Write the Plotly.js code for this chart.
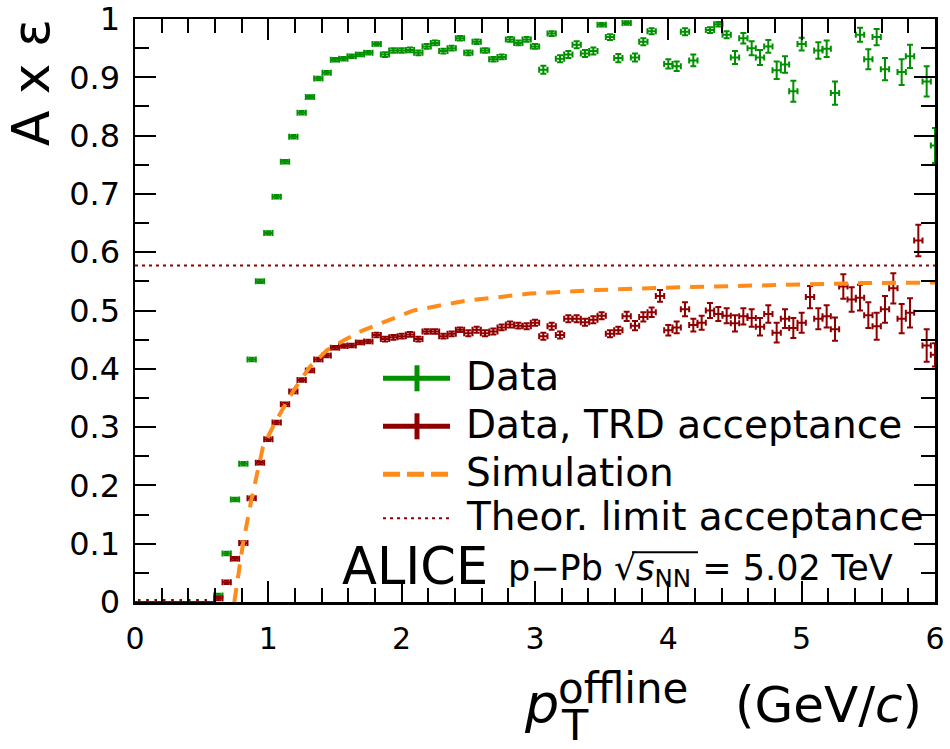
<!DOCTYPE html>
<html>
<head>
<meta charset="utf-8">
<script src="https://cdn.plot.ly/plotly-3.0.1.min.js"></script>
<style>
    html, body { margin: 0; padding: 0; background: #fff; }
    #chart { width: 950px; height: 749px; }
</style>
</head>
<body>
<div id="chart"></div>
<script>
"use strict";

// pT bin centres (GeV/c)
const ptBins = [0, 0.0625, 0.125, 0.1875, 0.25, 0.3125, 0.375, 0.4375, 0.5, 0.5625,
    0.625, 0.6875, 0.75, 0.8125, 0.875, 0.9375, 1, 1.0625, 1.125, 1.1875,
    1.25, 1.3125, 1.375, 1.4375, 1.5, 1.5625, 1.625, 1.6875, 1.75, 1.8125,
    1.875, 1.9375, 2, 2.0625, 2.125, 2.1875, 2.25, 2.3125, 2.375, 2.4375,
    2.5, 2.5625, 2.625, 2.6875, 2.75, 2.8125, 2.875, 2.9375, 3, 3.0625,
    3.125, 3.1875, 3.25, 3.3125, 3.375, 3.4375, 3.5, 3.5625, 3.625, 3.6875,
    3.75, 3.8125, 3.875, 3.9375, 4, 4.0625, 4.125, 4.1875, 4.25, 4.3125,
    4.375, 4.4375, 4.5, 4.5625, 4.625, 4.6875, 4.75, 4.8125, 4.875, 4.9375,
    5, 5.0625, 5.125, 5.1875, 5.25, 5.3125, 5.375, 5.4375, 5.5, 5.5625,
    5.625, 5.6875, 5.75, 5.8125, 5.875, 5.9375, 6];
const binHalfWidth = 0.03125;

// A x eff, all data
const effData = [0, 0, 0, 0, 0, 0, 0, 0, 0, 0,
    0.011, 0.083, 0.176, 0.237, 0.416, 0.550, 0.633, 0.695, 0.755, 0.798,
    0.839, 0.866, 0.898, 0.908, 0.930, 0.932, 0.936, 0.939, 0.942, 0.957,
    0.939, 0.946, 0.946, 0.947, 0.942, 0.953, 0.959, 0.945, 0.950, 0.967,
    0.942, 0.961, 0.946, 0.931, 0.935, 0.965, 0.959, 0.965, 0.953, 0.913,
    0.975, 0.932, 0.939, 0.956, 0.941, 0.945, 0.990, 0.969, 0.933, 0.993,
    0.934, 0.961, 0.979, null, 0.923, 0.919, 0.978, 0.929, null, 0.981,
    0.991, 0.973, 0.934, 0.967, 0.950, 0.934, 0.953, 0.912, 0.922, 0.876,
    0.957, null, 0.946, 0.949, 0.873, null, null, 0.973, 0.931, 0.969,
    0.914, null, 0.909, 0.936, null, 0.893, 0.783];
const errData = [0, 0, 0, 0, 0, 0, 0, 0, 0, 0,
    0.003, 0.003, 0.003, 0.003, 0.003, 0.003, 0.003, 0.003, 0.003, 0.003,
    0.003, 0.003, 0.003, 0.003, 0.003, 0.003, 0.003, 0.003, 0.003, 0.003,
    0.004, 0.004, 0.004, 0.004, 0.004, 0.004, 0.004, 0.004, 0.004, 0.004,
    0.004, 0.004, 0.004, 0.004, 0.004, 0.004, 0.004, 0.004, 0.004, 0.007,
    0.004, 0.006, 0.006, 0.006, 0.006, 0.006, 0.003, 0.005, 0.007, 0.003,
    0.007, 0.006, 0.005, 0, 0.008, 0.008, 0.006, 0.010, 0, 0.005,
    0.004, 0.006, 0.011, 0.009, 0.012, 0.013, 0.011, 0.015, 0.014, 0.018,
    0.011, 0, 0.014, 0.014, 0.020, 0, 0, 0.012, 0.017, 0.014,
    0.019, 0, 0.022, 0.020, 0, 0.026, 0.030];

// A x eff, tracks in TRD acceptance
const effTRD = [0, 0, 0, 0, 0, 0, 0, 0, 0, 0,
    0.006, 0.034, 0.074, 0.101, 0.178, 0.239, 0.279, 0.308, 0.339, 0.361,
    0.381, 0.397, 0.416, 0.423, 0.436, 0.439, 0.440, 0.445, 0.447, 0.458,
    0.451, 0.454, 0.456, 0.459, 0.451, 0.464, 0.464, 0.456, 0.460, 0.467,
    0.461, 0.467, 0.461, 0.464, 0.471, 0.476, 0.474, 0.473, 0.479, 0.456,
    0.473, 0.458, 0.486, 0.486, 0.480, 0.484, 0.491, 0.460, 0.466, 0.490,
    0.474, 0.489, 0.497, 0.525, 0.466, 0.471, 0.502, 0.475, 0.479, 0.500,
    0.494, 0.491, 0.478, 0.490, 0.487, 0.472, 0.494, 0.462, 0.486, 0.470,
    0.479, 0.523, 0.486, 0.490, 0.468, 0.541, 0.519, 0.522, 0.492, 0.473,
    0.502, 0.538, 0.486, 0.496, 0.620, 0.440, 0.424];
const errTRD = [0, 0, 0, 0, 0, 0, 0, 0, 0, 0,
    0.003, 0.003, 0.003, 0.003, 0.003, 0.003, 0.003, 0.003, 0.003, 0.003,
    0.003, 0.003, 0.003, 0.003, 0.003, 0.003, 0.003, 0.003, 0.003, 0.004,
    0.004, 0.004, 0.004, 0.004, 0.004, 0.004, 0.004, 0.004, 0.004, 0.004,
    0.005, 0.005, 0.005, 0.005, 0.005, 0.005, 0.005, 0.005, 0.005, 0.006,
    0.006, 0.006, 0.006, 0.006, 0.006, 0.006, 0.006, 0.006, 0.006, 0.008,
    0.008, 0.008, 0.008, 0.010, 0.009, 0.010, 0.012, 0.011, 0.012, 0.013,
    0.012, 0.013, 0.014, 0.014, 0.015, 0.015, 0.015, 0.017, 0.016, 0.017,
    0.017, 0.019, 0.018, 0.019, 0.020, 0.021, 0.021, 0.022, 0.022, 0.023,
    0.023, 0.026, 0.025, 0.025, 0.027, 0.028, 0.020];

// simulation curve
const simPt = [0.745, 0.77, 0.81, 0.875, 0.96, 1.06, 1.19, 1.31, 1.44, 1.56,
    1.71, 1.9, 2.09, 2.46, 2.96, 3.46, 3.94, 4.69, 5.44, 6.0];
const simEff = [0, 0.035, 0.1, 0.178, 0.266, 0.312, 0.363, 0.403, 0.432, 0.448,
    0.466, 0.483, 0.5, 0.516, 0.529, 0.535, 0.539, 0.543, 0.547, 0.548];

// theoretical acceptance limit
const limitPt = [0, 6];
const limitEff = [0.577, 0.577];

const legendNames = ["Data", "Data, TRD acceptance", "Simulation", "Theor. limit acceptance"];

const GREEN = "#009000";
const RED = "#900000";
const ORANGE = "#ff8c1a";
const FONT = "DejaVu Sans, Liberation Sans, sans-serif";

// pixel -> paper coordinates (plot frame is 135..935 x 18.7..601.7)
function px(x) { return (x - 135) / 800; }
function py(y) { return (601.7 - y) / 583; }

function dataTrace(y, err, color) {
    return {
        x: ptBins,
        y: y,
        type: "scatter",
        mode: "markers",
        marker: {color: color, size: 2},
        error_x: {type: "constant", value: binHalfWidth, color: color, thickness: 2, width: 3},
        error_y: {type: "data", array: err, color: color, thickness: 2, width: 3},
        showlegend: false,
        hoverinfo: "none"
    };
}

const traces = [
    {
        x: limitPt, y: limitEff, type: "scatter", mode: "lines",
        line: {color: RED, width: 2, dash: "3px,4px"}, showlegend: false, hoverinfo: "none"
    },
    dataTrace(effData, errData, GREEN),
    dataTrace(effTRD, errTRD, RED),
    {
        x: simPt, y: simEff, type: "scatter", mode: "lines", line: {color: ORANGE, width: 4, dash: "14px,10px"},
        showlegend: false, hoverinfo: "none"
    }
];

// hand-drawn legend, ROOT style
const legendRows = [378, 426, 474, 518];
const shapes = [];
function seg(x0, y0, x1, y1, color, width, dash) {
    shapes.push({
        type: "line", xref: "paper", yref: "paper",
        x0: px(x0), y0: py(y0), x1: px(x1), y1: py(y1),
        line: {color: color, width: width, dash: dash || "solid"}
    });
}
seg(383, legendRows[0], 450, legendRows[0], GREEN, 5);
seg(417, legendRows[0] - 13, 417, legendRows[0] + 13, GREEN, 5);
seg(383, legendRows[1], 450, legendRows[1], RED, 5);
seg(417, legendRows[1] - 13, 417, legendRows[1] + 13, RED, 5);
seg(383, legendRows[2], 450, legendRows[2], ORANGE, 5, "17px,7px");
seg(383, legendRows[3], 450, legendRows[3], RED, 2, "3px,4px");
// overline of the square root
seg(632, 552, 698, 552, "black", 2);

const annotations = legendNames.map(function (name, i) {
    return {
        text: name, xref: "paper", yref: "paper", x: px(464), y: py(legendRows[i] - 2),
        xanchor: "left", yanchor: "middle", showarrow: false,
        font: {family: FONT, size: 39, color: "black"}
    };
});

function label(text, x, y, size, extra) {
    let a = {
        text: text, xref: "paper", yref: "paper", x: px(x), y: py(y),
        xanchor: "left", yanchor: "middle", showarrow: false,
        font: {family: FONT, size: size, color: "black"}
    };
    return Object.assign(a, extra || {});
}

annotations.push(label("ALICE", 340, 566, 51));
annotations.push(label("p\u2212Pb \u221A<i>s</i><sub>NN</sub> = 5.02 TeV", 506, 570, 35));
// axis titles
annotations.push(label("<i>p</i>", 522, 703, 54));
annotations.push(label("offline", 556, 688, 42));
annotations.push(label("T", 559, 725, 43));
annotations.push(label("(GeV/<i>c</i>)", 733, 705, 50));
annotations.push(label("A x \u03B5", 31, 82, 52, {textangle: -90, xanchor: "center"}));

const axisCommon = {
    showline: true, linecolor: "black", linewidth: 2.5, mirror: "allticks",
    ticks: "inside", ticklen: 21, tickwidth: 2, tickcolor: "black",
    showgrid: false, zeroline: false, fixedrange: true
};

const layout = {
    width: 950,
    height: 749,
    margin: {l: 135, r: 15, t: 19, b: 147},
    paper_bgcolor: "white",
    plot_bgcolor: "white",
    showlegend: false,
    xaxis: Object.assign({}, axisCommon, {
        range: [0, 6], dtick: 1, tick0: 0,
        minor: {dtick: 0.2, ticklen: 14, tickwidth: 2, tickcolor: "black", ticks: "inside"},
        tickfont: {family: FONT, size: 30, color: "black"}, ticklabelstandoff: 8
    }),
    yaxis: Object.assign({}, axisCommon, {
        range: [0, 1], dtick: 0.1, tick0: 0,
        minor: {dtick: 0.05, ticklen: 14, tickwidth: 2, tickcolor: "black", ticks: "inside"},
        tickfont: {family: FONT, size: 32, color: "black"}, ticklabelstandoff: 6
    }),
    shapes: shapes,
    annotations: annotations
};

Plotly.newPlot("chart", traces, layout, {staticPlot: true});
</script>
</body>
</html>
